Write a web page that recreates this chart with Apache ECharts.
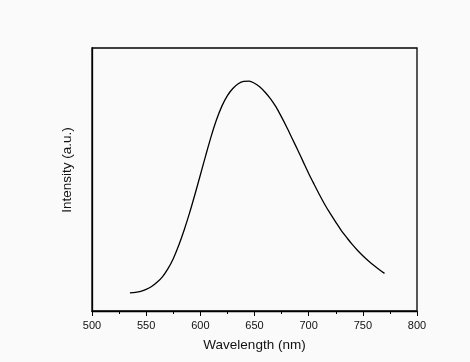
<!DOCTYPE html>
<html><head><meta charset="utf-8">
<script src="https://cdn.jsdelivr.net/npm/echarts@6/dist/echarts.min.js"></script>
<style>html,body{margin:0;padding:0;background:#fafafa}#c{width:470px;height:362px}</style>
</head><body><div id="c"></div>
<script>
const wavelength = [535, 540, 545, 550, 555, 560, 565, 570, 575, 580, 585, 590, 595, 600, 605, 610, 615, 620, 625, 630, 635, 640, 645, 650, 655, 660, 665, 670, 675, 680, 685, 690, 695, 700, 705, 710, 715, 720, 725, 730, 735, 740, 745, 750, 755, 760, 765, 770];
const intensity  = [0.069, 0.071, 0.075, 0.082, 0.093, 0.109, 0.130, 0.160, 0.199, 0.249, 0.307, 0.372, 0.443, 0.517, 0.592, 0.664, 0.728, 0.780, 0.819, 0.846, 0.864, 0.873, 0.874, 0.866, 0.852, 0.831, 0.806, 0.775, 0.737, 0.697, 0.654, 0.611, 0.567, 0.523, 0.482, 0.442, 0.404, 0.370, 0.338, 0.307, 0.280, 0.254, 0.231, 0.210, 0.191, 0.174, 0.158, 0.143];
const xTicks = [500, 550, 600, 650, 700, 750, 800];
const xTitle = 'Wavelength (nm)';
const yTitle = 'Intensity (a.u.)';

const chart = echarts.init(document.getElementById('c'));
const font = '"Liberation Sans", Arial, sans-serif';
chart.setOption({
  backgroundColor: '#fafafa',
  animation: false,
  grid: {left: 92, right: 53, top: 48, bottom: 51, show: true, borderColor: '#000', borderWidth: 1.3, backgroundColor: 'transparent'},
  xAxis: {
    type: 'value', min: xTicks[0], max: xTicks[xTicks.length - 1], interval: 50,
    name: xTitle, nameLocation: 'middle', nameGap: 27,
    nameTextStyle: {fontFamily: font, fontSize: 13.5, color: '#111'},
    axisLine: {show: true, lineStyle: {color: '#000', width: 1.3}},
    axisTick: {show: true, inside: false, length: 5, lineStyle: {color: '#000', width: 1}},
    minorTick: {show: true, splitNumber: 2, length: 3, lineStyle: {color: '#000', width: 1}},
    axisLabel: {fontFamily: font, fontSize: 11, color: '#111', margin: 9},
    splitLine: {show: false}
  },
  yAxis: {
    type: 'value', min: 0, max: 1,
    axisLine: {show: true, lineStyle: {color: '#000', width: 1.3}},
    axisTick: {show: false}, axisLabel: {show: false}, splitLine: {show: false}
  },
  graphic: [{
    type: 'text', rotation: Math.PI / 2, x: 67, y: 170,
    style: {text: yTitle, font: '13.5px ' + font, fill: '#111', textAlign: 'center', textVerticalAlign: 'middle'}
  }],
  series: [{
    type: 'line', smooth: 0.3, showSymbol: false,
    data: wavelength.map((w, i) => [w, intensity[i]]),
    lineStyle: {color: '#000', width: 1.3}
  }]
});
</script></body></html>
